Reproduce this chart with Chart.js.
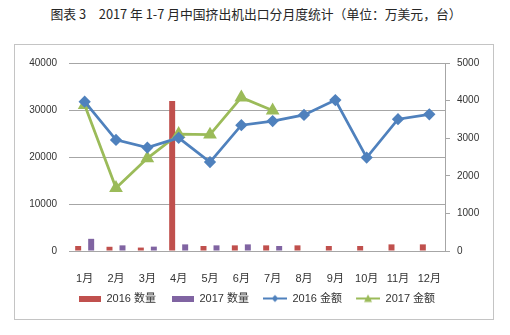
<!DOCTYPE html>
<html>
<head>
<meta charset="utf-8">
<script src="https://cdn.jsdelivr.net/npm/chart.js@4/dist/chart.umd.min.js"></script>
<style>
  html, body { margin: 0; padding: 0; background: #ffffff; }
  body { width: 510px; height: 335px; position: relative; overflow: hidden; }
  #title {
    position: absolute; left: 0; top: 4px; width: 512px; text-align: center;
    font: 12.8px "Noto Sans CJK SC", "Liberation Sans", sans-serif; color: #262626;
    white-space: pre;
  }
  #frame {
    position: absolute; left: 14px; top: 44px; width: 480px; height: 276px;
    box-sizing: border-box; border: 1px solid #c4c4c4; background: #fff;
  }
  #chart { display: block; }
</style>
</head>
<body>
<div id="title">图表 3　2017 年 1-7 月中国挤出机出口分月度统计（单位：万美元，台）</div>
<div id="frame"><canvas id="chart" width="478" height="274"></canvas></div>
<script>
// Monthly extruder exports: quantity (units, left axis) and value (10k USD, right axis)
const months = ['1月', '2月', '3月', '4月', '5月', '6月', '7月', '8月', '9月', '10月', '11月', '12月'];
const qty2016 = [1070, 900, 730, 31900, 1070, 1200, 1200, 1200, 1070, 1070, 1410, 1410];
const qty2017 = [2590, 1200, 930, 1410, 1200, 1410, 1070, null, null, null, null, null];
const amt2016 = [3970, 2955, 2750, 3010, 2365, 3345, 3455, 3620, 4015, 2485, 3505, 3635];
const amt2017 = [3885, 1675, 2465, 3110, 3095, 4085, 3735, null, null, null, null, null];
const qtyTicks = [0, 10000, 20000, 30000, 40000];
const amtTicks = [0, 1000, 2000, 3000, 4000, 5000];

const RED = '#c0504d', PURPLE = '#8064a2', BLUE = '#4f81bd', GREEN = '#9bbb59';
const FONT = '"Liberation Sans", "Noto Sans CJK SC", sans-serif';
const TEXT = '#333333';
const GRID = '#a6a6a6';

// Small legend glyphs: a bar swatch or a line with its marker
function swatch(color) {
  const c = document.createElement('canvas');
  c.width = 28; c.height = 6;
  const g = c.getContext('2d');
  g.fillStyle = color;
  g.fillRect(6, 0, 22, 6);
  return c;
}
function lineGlyph(color, marker) {
  const c = document.createElement('canvas');
  c.width = 28; c.height = 10;
  const g = c.getContext('2d');
  g.strokeStyle = color; g.lineWidth = 2;
  g.beginPath(); g.moveTo(4, 5); g.lineTo(28, 5); g.stroke();
  g.fillStyle = color;
  g.beginPath();
  if (marker === 'diamond') {
    g.moveTo(16, 1.5); g.lineTo(19.5, 5); g.lineTo(16, 8.5); g.lineTo(12.5, 5);
  } else {
    g.moveTo(16, 1); g.lineTo(20, 8.5); g.lineTo(12, 8.5);
  }
  g.closePath(); g.fill();
  return c;
}
const legendGlyphs = [swatch(RED), swatch(PURPLE), lineGlyph(BLUE, 'diamond'), lineGlyph(GREEN, 'triangle')];
const plain = v => String(v);

new Chart(document.getElementById('chart'), {
  data: {
    labels: months,
    datasets: [
      { type: 'bar', label: '2016 数量', data: qty2016, backgroundColor: RED, yAxisID: 'yQty', order: 2,
        categoryPercentage: 0.83, barPercentage: 0.46 },
      { type: 'bar', label: '2017 数量', data: qty2017, backgroundColor: PURPLE, yAxisID: 'yQty', order: 2,
        categoryPercentage: 0.83, barPercentage: 0.46 },
      { type: 'line', label: '2016 金额', data: amt2016, borderColor: BLUE, backgroundColor: BLUE,
        borderWidth: 2.75, pointStyle: 'rectRot', pointRadius: 4.2, yAxisID: 'yAmt', order: 0, tension: 0 },
      { type: 'line', label: '2017 金额', data: amt2017, borderColor: GREEN, backgroundColor: GREEN,
        borderWidth: 2.75, pointStyle: 'triangle', pointRadius: 5.2, yAxisID: 'yAmt', order: 1, tension: 0 }
    ]
  },
  options: {
    responsive: false,
    animation: false,
    devicePixelRatio: 1,
    layout: { padding: { top: 12, left: 0, right: 0, bottom: 5 } },
    plugins: {
      tooltip: { enabled: false },
      legend: {
        position: 'bottom',
        labels: {
          usePointStyle: true,
          pointStyleWidth: 28,
          padding: 10,
          color: TEXT,
          font: { family: FONT, size: 11 },
          generateLabels(chart) {
            return chart.data.datasets.map((ds, i) => ({
              text: ds.label, datasetIndex: i, pointStyle: legendGlyphs[i],
              fillStyle: ds.backgroundColor, strokeStyle: ds.backgroundColor, lineWidth: 0,
              hidden: false, fontColor: TEXT
            }));
          }
        }
      }
    },
    scales: {
      x: {
        grid: { display: false },
        border: { display: true, color: GRID, width: 1 },
        ticks: { color: TEXT, font: { family: FONT, size: 11 }, padding: 13, maxRotation: 0, autoSkip: false },
        afterFit(scale) { scale.height = 32; }
      },
      yQty: {
        position: 'left', min: 0, max: 40000,
        afterBuildTicks(scale) { scale.ticks = qtyTicks.map(v => ({ value: v })); },
        grid: { color: GRID, lineWidth: 1, drawTicks: false },
        border: { display: false },
        ticks: { color: TEXT, font: { family: FONT, size: 10 }, padding: 12, callback: plain },
        afterFit(scale) { scale.width = 54; }
      },
      yAmt: {
        position: 'right', min: 0, max: 5000,
        afterBuildTicks(scale) { scale.ticks = amtTicks.map(v => ({ value: v })); },
        grid: { drawOnChartArea: false, drawTicks: true, tickLength: 5, color: GRID },
        border: { display: true, color: GRID, width: 1 },
        ticks: { color: TEXT, font: { family: FONT, size: 10 }, padding: 7, callback: plain },
        afterFit(scale) { scale.width = 48; }
      }
    }
  }
});
</script>
</body>
</html>
